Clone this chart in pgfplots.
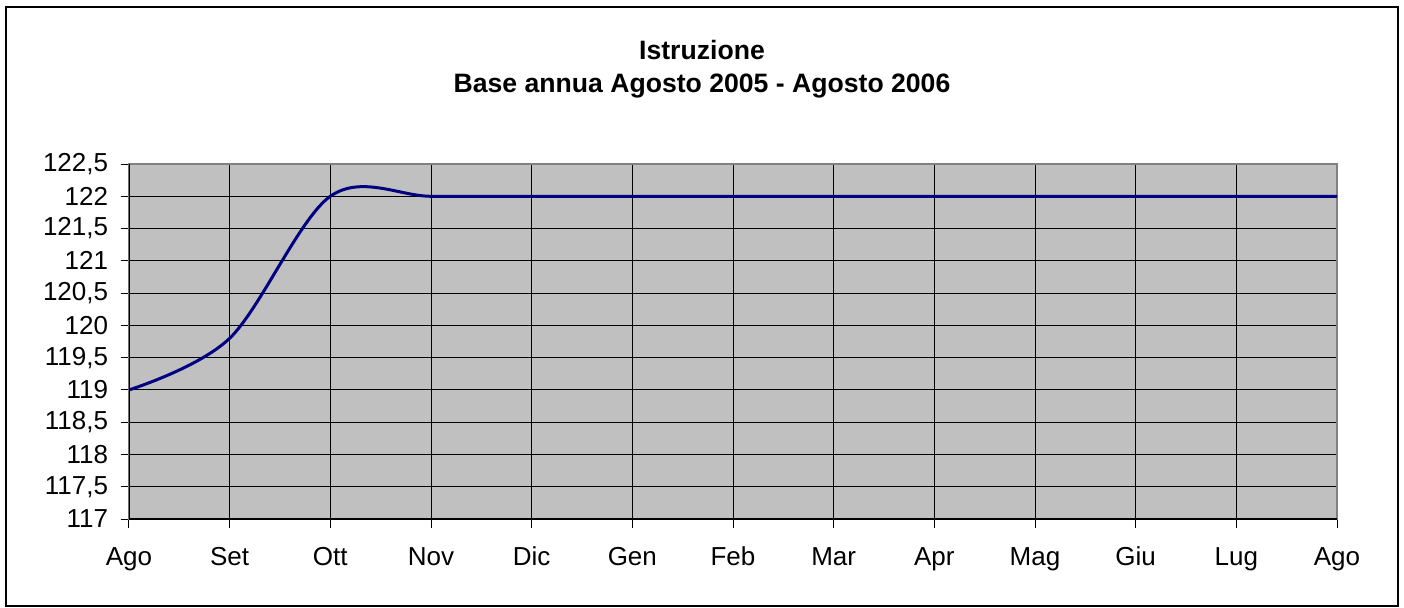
\documentclass[border=0pt]{standalone}
\usepackage{fontspec}
\setmainfont{Liberation Sans}
\usepackage{pgfplots}
\pgfplotsset{compat=1.18}
\definecolor{plotgray}{HTML}{C0C0C0}
\definecolor{navyline}{HTML}{000080}
\begin{document}
\begin{tikzpicture}
\useasboundingbox (0,0) rectangle (702pt,-303.5pt);
\draw[line width=0.9pt] (3pt,-3.5pt) rectangle (699pt,-303pt);
\node[font=\bfseries\fontsize{13.3}{16.8}\selectfont, align=center] at (351pt,-34.5pt) {Istruzione\\Base annua Agosto 2005 - Agosto 2006};
\begin{axis}[
  at={(64.5pt,-82pt)}, anchor=north west,
  scale only axis, width=604pt, height=177.5pt,
  xmin=0, xmax=12, ymin=117, ymax=122.5,
  xtick={0,1,2,3,4,5,6,7,8,9,10,11,12},
  xticklabels={Ago,Set,Ott,Nov,Dic,Gen,Feb,Mar,Apr,Mag,Giu,Lug,Ago},
  ytick={117,117.5,118,118.5,119,119.5,120,120.5,121,121.5,122,122.5},
  xtick pos=bottom, ytick pos=left,
  /pgf/number format/assume math mode=true,
  /pgf/number format/use comma,
  grid=major,
  major grid style={black, line width=0.5pt},
  axis background/.style={fill=plotgray},
  axis line style={draw=gray, line width=1.1pt},
  tick style={black, line width=0.5pt},
  tick align=center, major tick length=8.5pt,
  ticklabel style={font=\fontsize{13}{15}\selectfont},
  yticklabel style={inner sep=0pt, anchor=east, xshift=-6pt},
  xticklabel style={inner sep=0pt, anchor=base, yshift=-19pt},
]
\addplot[navyline, line width=1.5pt, smooth, tension=0.55] coordinates {
(0,119) (1,119.8) (2,122) (3,122) (4,122) (5,122) (6,122) (7,122) (8,122) (9,122) (10,122) (11,122) (12,122)};
\draw[black, line width=0.6pt] (rel axis cs:0,0) -- (rel axis cs:1,0);
\draw[black, line width=0.6pt] (rel axis cs:0,0) -- (rel axis cs:0,1);
\end{axis}
\end{tikzpicture}
\end{document}
